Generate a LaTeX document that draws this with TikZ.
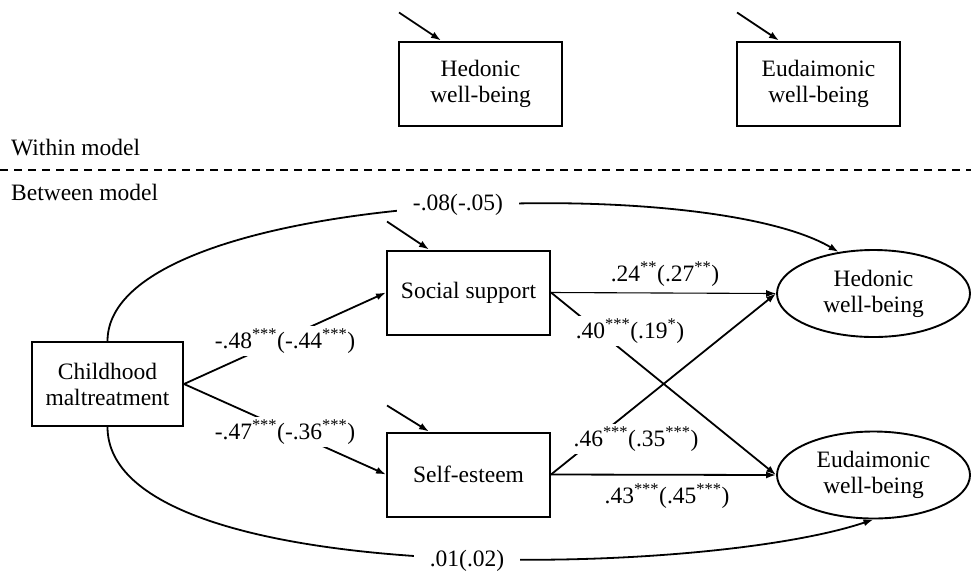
\documentclass[tikz,border=0pt]{standalone}
\usepackage{fontspec}
\setmainfont{Liberation Serif}
\usetikzlibrary{arrows.meta,calc,shapes.geometric}
\newcommand{\sig}[1]{\textsuperscript{#1}}
\tikzset{
  box/.style={draw, line width=2pt, minimum width=163pt, minimum height=84pt, align=center, inner sep=0pt, font=\fontsize{23.5}{26}\selectfont},
  ell/.style={draw, ellipse, line width=1.9pt, minimum width=193pt, minimum height=87pt, align=center, inner sep=0pt, font=\fontsize{23.5}{26}\selectfont},
  arr/.style={-{Latex[length=10pt,width=7pt]}, line width=1.8pt},
  lab/.style={fill=white, inner sep=3pt, font=\fontsize{23.5}{26}\selectfont},
  txt/.style={anchor=west, inner sep=0pt, font=\fontsize{23.5}{26}\selectfont}
}
\begin{document}
\begin{tikzpicture}[x=1pt,y=-1pt]
\useasboundingbox[fill=white] (0,0) rectangle (971,571);
% within model
\node[box] (h1) at (480.5,83.5) {Hedonic\\well-being};
\node[box] (e1) at (818.5,83.5) {Eudaimonic\\well-being};
\draw[arr] ($(h1.north west)+(1,-28)$) -- ($(h1.north west)+(43,0)$);
\draw[arr] ($(e1.north west)+(1,-28)$) -- ($(e1.north west)+(43,0)$);
\node[txt] (wm) at (11,148) {Within model};
\coordinate (dl) at (0,170);
\coordinate (dr) at (971,170);
\draw[line width=1.1pt, dash pattern=on 8pt off 6pt] (dl) -- (dr);
\node[txt] (bm) at (11,192) {Between model};
% between model
\node[box, minimum width=151pt] (cm) at (107.5,384) {Childhood\\maltreatment};
\node[box] (ss) at (468.5,292.5) {Social support};
\node[box] (se) at (468.5,474.5) {Self-esteem};
\node[ell] (hw) at (873.5,293.5) {Hedonic\\well-being};
\node[ell] (ew) at (873.5,475) {Eudaimonic\\well-being};
\draw[arr] ($(ss.north west)+(1,-28)$) -- ($(ss.north west)+(43,0)$);
\draw[arr] ($(se.north west)+(1,-26)$) -- ($(se.north west)+(43,0)$);
\draw[arr] (cm.east) -- (ss.west);
\draw[arr] (cm.east) -- (se.west);
\draw[arr, line width=1.1pt] (ss.east) -- (hw.west);
\draw[arr] (ss.east) -- (ew.west);
\draw[arr] (se.east) -- (hw.west);
\draw[arr] (se.east) -- (ew.west);
\draw[arr] (cm.north) .. controls (108,190) and (700,170) .. (hw.130);
\draw[arr] (cm.south) .. controls (108,590) and (700,578) .. (ew.south);
% labels
\node[lab, inner xsep=16pt] (l1) at (458,205) {-.08(-.05)};
\node[lab, inner xsep=16pt] (l2) at (467,561) {.01(.02)};
\node[lab] (l3) at (285,341) {-.48\sig{***}(-.44\sig{***})};
\node[lab] (l4) at (285,432) {-.47\sig{***}(-.36\sig{***})};
\node[lab, fill=none] (l5) at (665,274) {.24\sig{**}(.27\sig{**})};
\node[lab] (l6) at (630,331) {.40\sig{***}(.19\sig{*})};
\node[lab] (l7) at (636,439) {.46\sig{***}(.35\sig{***})};
\node[lab, fill=none] (l8) at (667,496) {.43\sig{***}(.45\sig{***})};
\end{tikzpicture}
\end{document}
